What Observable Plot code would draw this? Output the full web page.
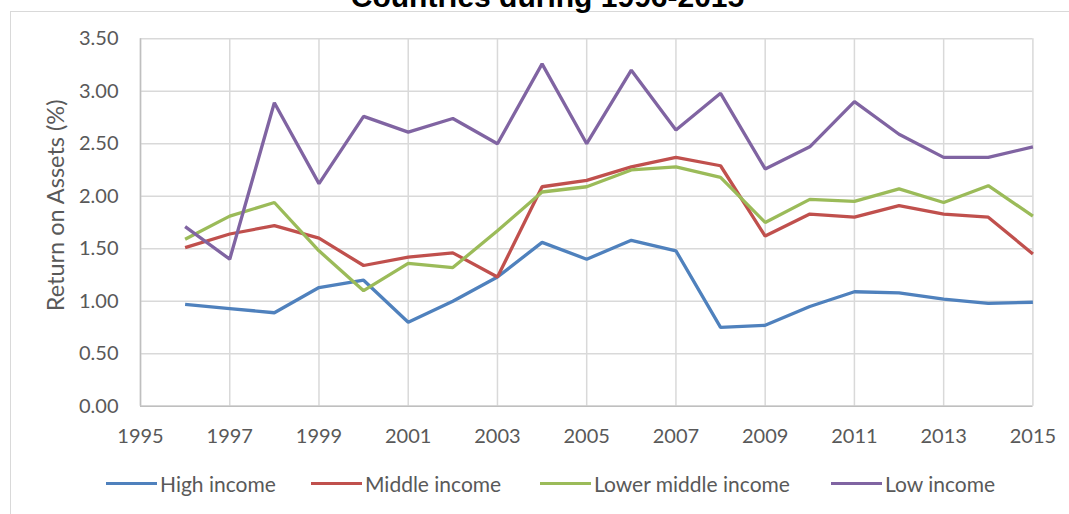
<!DOCTYPE html>
<html>
<head>
<meta charset="utf-8">
<script src="https://cdn.jsdelivr.net/npm/d3@7"></script>
<script src="https://cdn.jsdelivr.net/npm/@observablehq/plot@0.6"></script>
<style>
  html, body { margin: 0; padding: 0; background: #ffffff; overflow: hidden; }
  #wrap { position: relative; width: 1069px; height: 514px; overflow: hidden; background: #fff; }
  #frame { position: absolute; left: 10px; top: 11px; width: 1100px; height: 600px; border: 1px solid #d9d9d9; box-sizing: border-box; }
  #title { position: absolute; top: -18px; left: 547.5px; transform: translateX(-50%); white-space: nowrap;
           font-family: "Liberation Sans", Arial, sans-serif; font-weight: bold; font-size: 30px; line-height: 30px; color: #000; }
  #chart { position: absolute; left: 0; top: 0; }
  #legend { position: absolute; left: 0; top: 0; width: 1069px; height: 514px;
            font-family: Lato, sans-serif; font-size: 21px; color: #595959; white-space: nowrap; }
  .item { position: absolute; top: 470px; height: 26px; display: flex; align-items: center; }
  .sw { display: inline-block; width: 51px; height: 3px; margin-right: 3px; }
</style>
</head>
<body>
<div id="wrap">
  <div id="frame"></div>
  <div id="title">Countries during 1996-2015</div>
  <div id="chart"></div>
  <div id="legend"></div>
</div>
<script>
const years = [1996, 1997, 1998, 1999, 2000, 2001, 2002, 2003, 2004, 2005,
               2006, 2007, 2008, 2009, 2010, 2011, 2012, 2013, 2014, 2015];
const highIncome        = [0.97, 0.93, 0.89, 1.13, 1.20, 0.80, 1.00, 1.23, 1.56, 1.40,
                           1.58, 1.48, 0.75, 0.77, 0.95, 1.09, 1.08, 1.02, 0.98, 0.99];
const middleIncome      = [1.51, 1.64, 1.72, 1.60, 1.34, 1.42, 1.46, 1.23, 2.09, 2.15,
                           2.28, 2.37, 2.29, 1.62, 1.83, 1.80, 1.91, 1.83, 1.80, 1.45];
const lowerMiddleIncome = [1.59, 1.81, 1.94, 1.48, 1.10, 1.36, 1.32, 1.67, 2.04, 2.09,
                           2.25, 2.28, 2.18, 1.75, 1.97, 1.95, 2.07, 1.94, 2.10, 1.81];
const lowIncome         = [1.71, 1.40, 2.89, 2.12, 2.76, 2.61, 2.74, 2.50, 3.26, 2.50,
                           3.20, 2.63, 2.98, 2.26, 2.47, 2.90, 2.59, 2.37, 2.37, 2.47];
const seriesNames = ["High income", "Middle income", "Lower middle income", "Low income"];
const seriesColors = ["#4F81BD", "#C0504D", "#9BBB59", "#8064A2"];
const xTicks = [1995, 1997, 1999, 2001, 2003, 2005, 2007, 2009, 2011, 2013, 2015];
const yTicks = [0, 0.5, 1, 1.5, 2, 2.5, 3, 3.5];
const yLabel = "Return on Assets (%)";
const legendLeft = [106, 311, 540, 831];

const seriesValues = [highIncome, middleIncome, lowerMiddleIncome, lowIncome];
const data = [];
seriesNames.forEach((name, i) => {
  years.forEach((yr, j) => data.push({series: name, year: yr, value: seriesValues[i][j]}));
});

const chart = Plot.plot({
  width: 1069,
  height: 460,
  marginLeft: 140,
  marginRight: 36.6,
  marginTop: 38.2,
  marginBottom: 54.3,
  style: {fontFamily: "Lato, sans-serif", fontSize: "20px", color: "#595959", background: "transparent"},
  x: {domain: [1995, 2015]},
  y: {domain: [0, 3.5]},
  color: {domain: seriesNames, range: seriesColors},
  marks: [
    Plot.gridX(xTicks, {stroke: "#d9d9d9", strokeOpacity: 1, strokeWidth: 1.5}),
    Plot.gridY(yTicks, {stroke: "#d9d9d9", strokeOpacity: 1, strokeWidth: 1.5}),
    Plot.ruleX([1995], {stroke: "#bfbfbf", strokeWidth: 1.5}),
    Plot.ruleY([0], {stroke: "#bfbfbf", strokeWidth: 1.5}),
    Plot.axisX(xTicks, {tickSize: 0, tickPadding: 23, tickFormat: d => String(d), label: null, fill: "#595959", fontSize: 20}),
    Plot.axisY(yTicks, {tickSize: 0, tickPadding: 22, tickFormat: d => d.toFixed(2), label: null, fill: "#595959", fontSize: 20}),
    Plot.line(data, {x: "year", y: "value", z: "series", stroke: "series", strokeWidth: 3.3, strokeLinejoin: "miter", strokeLinecap: "butt"}),
    Plot.text([yLabel], {frameAnchor: "left", textAnchor: "middle", rotate: -90, dx: -84, dy: -17, fill: "#595959", fontSize: 23.5})
  ]
});
document.getElementById("chart").appendChild(chart);

const legend = document.getElementById("legend");
seriesNames.forEach((name, i) => {
  const item = document.createElement("div");
  item.className = "item";
  item.style.left = legendLeft[i] + "px";
  const sw = document.createElement("span");
  sw.className = "sw";
  sw.style.background = seriesColors[i];
  const t = document.createElement("span");
  t.textContent = name;
  item.appendChild(sw);
  item.appendChild(t);
  legend.appendChild(item);
});
</script>
</body>
</html>
